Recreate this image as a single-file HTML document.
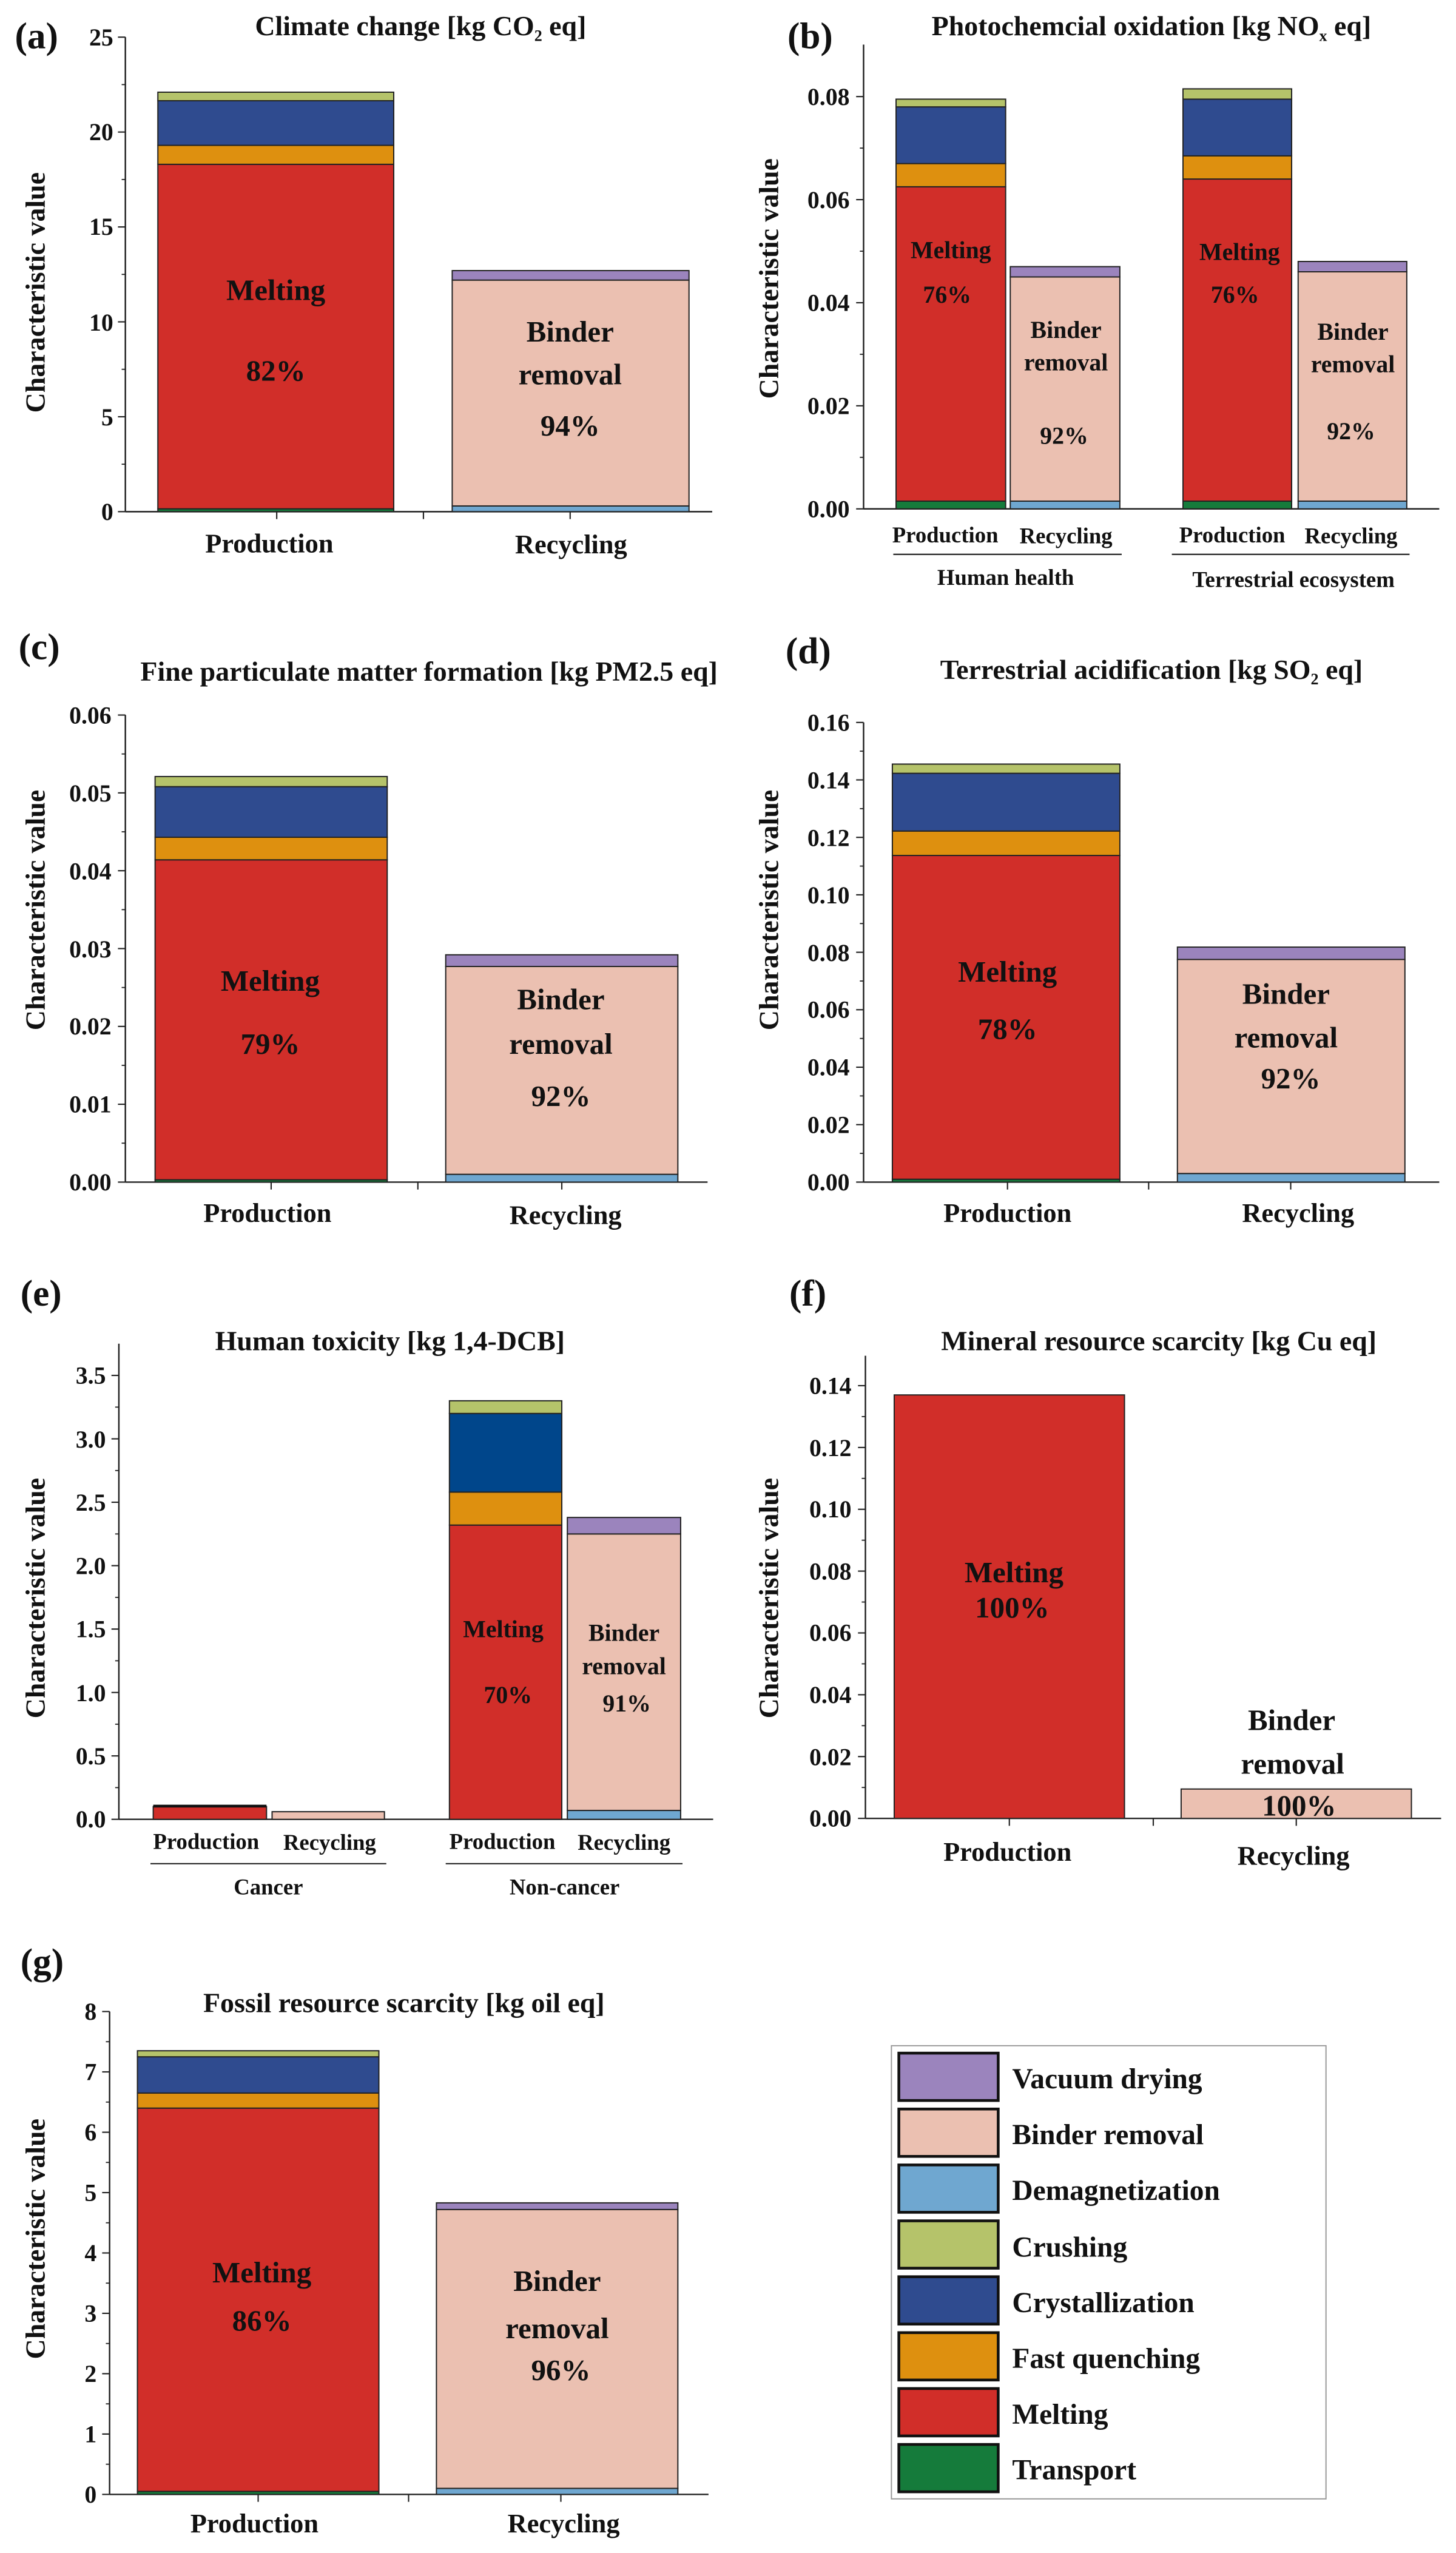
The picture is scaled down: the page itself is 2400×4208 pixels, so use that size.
<!DOCTYPE html>
<html><head><meta charset="utf-8"><style>
html,body{margin:0;padding:0;background:#fff}
svg{display:block}
text{font-family:"Liberation Serif",serif;font-weight:bold;fill:#111}
.t{font-size:30px;text-anchor:middle}
.tk{font-size:26px;text-anchor:end}
.yl{font-size:30px;text-anchor:middle}
.xl{font-size:29px;text-anchor:middle}
.sx{font-size:24px;text-anchor:middle}
.pl{font-size:40px}
.in{font-size:32px;text-anchor:middle}
.ins{font-size:26px;text-anchor:middle}
.lg{font-size:31px}
</style></head><body>
<svg id="s" width="2400" height="4208" viewBox="0 0 1568 2749.3" xmlns="http://www.w3.org/2000/svg">
<g id="g"></g>
<!-- (a) -->
<text class="pl" x="16" y="52">(a)</text>
<text class="t" x="453" y="38">Climate change [kg CO<tspan font-size="17" dy="6">2</tspan><tspan dy="-6"> eq]</tspan></text>
<text class="tk" x="122" y="560">0</text><text class="tk" x="122" y="458">5</text><text class="tk" x="122" y="356">10</text><text class="tk" x="122" y="253">15</text><text class="tk" x="122" y="151">20</text><text class="tk" x="122" y="49">25</text>
<text class="yl" transform="translate(48,315) rotate(-90)">Characteristic value</text>
<text class="xl" x="290" y="595">Production</text><text class="xl" x="615" y="596">Recycling</text>
<text class="in" x="297" y="323">Melting</text><text class="in" x="297" y="410">82%</text>
<text class="in" x="614" y="368">Binder</text><text class="in" x="614" y="414">removal</text><text class="in" x="614" y="469">94%</text>
<!-- (b) -->
<text class="pl" x="848" y="52">(b)</text>
<text class="t" x="1240" y="38">Photochemcial oxidation [kg NO<tspan font-size="17" dy="6">x</tspan><tspan dy="-6"> eq]</tspan></text>
<text class="tk" x="915" y="557">0.00</text><text class="tk" x="915" y="446">0.02</text><text class="tk" x="915" y="335">0.04</text><text class="tk" x="915" y="224">0.06</text><text class="tk" x="915" y="113">0.08</text>
<text class="yl" transform="translate(838,300) rotate(-90)">Characteristic value</text>
<text class="ins" x="1024" y="278">Melting</text><text class="ins" x="1020" y="326">76%</text>
<text class="ins" x="1148" y="364">Binder</text><text class="ins" x="1148" y="399">removal</text><text class="ins" x="1146" y="478">92%</text>
<text class="ins" x="1335" y="280">Melting</text><text class="ins" x="1330" y="326">76%</text>
<text class="ins" x="1457" y="366">Binder</text><text class="ins" x="1457" y="401">removal</text><text class="ins" x="1455" y="473">92%</text>
<text class="sx" x="1018" y="584">Production</text><text class="sx" x="1148" y="585">Recycling</text>
<text class="sx" x="1083" y="630">Human health</text>
<text class="sx" x="1327" y="584">Production</text><text class="sx" x="1455" y="585">Recycling</text>
<text class="sx" x="1393" y="632">Terrestrial ecosystem</text>
<!-- (c) -->
<text class="pl" x="20" y="710">(c)</text>
<text class="t" x="462" y="733">Fine particulate matter formation [kg PM2.5 eq]</text>
<text class="tk" x="120" y="1282">0.00</text><text class="tk" x="120" y="1198">0.01</text><text class="tk" x="120" y="1114">0.02</text><text class="tk" x="120" y="1031">0.03</text><text class="tk" x="120" y="947">0.04</text><text class="tk" x="120" y="863">0.05</text><text class="tk" x="120" y="779">0.06</text>
<text class="yl" transform="translate(48,980) rotate(-90)">Characteristic value</text>
<text class="xl" x="288" y="1316">Production</text><text class="xl" x="609" y="1318">Recycling</text>
<text class="in" x="291" y="1067">Melting</text><text class="in" x="291" y="1135">79%</text>
<text class="in" x="604" y="1087">Binder</text><text class="in" x="604" y="1135">removal</text><text class="in" x="604" y="1191">92%</text>
<!-- (d) -->
<text class="pl" x="846" y="714">(d)</text>
<text class="t" x="1240" y="731">Terrestrial acidification [kg SO<tspan font-size="17" dy="6">2</tspan><tspan dy="-6"> eq]</tspan></text>
<text class="tk" x="915" y="1282">0.00</text><text class="tk" x="915" y="1220">0.02</text><text class="tk" x="915" y="1158">0.04</text><text class="tk" x="915" y="1096">0.06</text><text class="tk" x="915" y="1035">0.08</text><text class="tk" x="915" y="973">0.10</text><text class="tk" x="915" y="911">0.12</text><text class="tk" x="915" y="849">0.14</text><text class="tk" x="915" y="787">0.16</text>
<text class="yl" transform="translate(838,980) rotate(-90)">Characteristic value</text>
<text class="xl" x="1085" y="1316">Production</text><text class="xl" x="1398" y="1316">Recycling</text>
<text class="in" x="1085" y="1057">Melting</text><text class="in" x="1085" y="1119">78%</text>
<text class="in" x="1385" y="1081">Binder</text><text class="in" x="1385" y="1128">removal</text><text class="in" x="1390" y="1172">92%</text>
<!-- (e) -->
<text class="pl" x="22" y="1406">(e)</text>
<text class="t" x="420" y="1454">Human toxicity [kg 1,4-DCB]</text>
<text class="tk" x="114" y="1968">0.0</text><text class="tk" x="114" y="1900">0.5</text><text class="tk" x="114" y="1832">1.0</text><text class="tk" x="114" y="1763">1.5</text><text class="tk" x="114" y="1695">2.0</text><text class="tk" x="114" y="1627">2.5</text><text class="tk" x="114" y="1559">3.0</text><text class="tk" x="114" y="1490">3.5</text>
<text class="yl" transform="translate(48,1721) rotate(-90)">Characteristic value</text>
<text class="ins" x="542" y="1763">Melting</text><text class="ins" x="547" y="1834">70%</text>
<text class="ins" x="672" y="1767">Binder</text><text class="ins" x="672" y="1803">removal</text><text class="ins" x="675" y="1843">91%</text>
<text class="sx" x="222" y="1991">Production</text><text class="sx" x="355" y="1992">Recycling</text><text class="sx" x="289" y="2040">Cancer</text>
<text class="sx" x="541" y="1991">Production</text><text class="sx" x="672" y="1992">Recycling</text><text class="sx" x="608" y="2040">Non-cancer</text>
<!-- (f) -->
<text class="pl" x="850" y="1406">(f)</text>
<text class="t" x="1248" y="1454">Mineral resource scarcity [kg Cu eq]</text>
<text class="tk" x="917" y="1967">0.00</text><text class="tk" x="917" y="1901">0.02</text><text class="tk" x="917" y="1834">0.04</text><text class="tk" x="917" y="1767">0.06</text><text class="tk" x="917" y="1701">0.08</text><text class="tk" x="917" y="1634">0.10</text><text class="tk" x="917" y="1568">0.12</text><text class="tk" x="917" y="1501">0.14</text>
<text class="yl" transform="translate(838,1721) rotate(-90)">Characteristic value</text>
<text class="in" x="1092" y="1704">Melting</text><text class="in" x="1090" y="1742">100%</text>
<text class="in" x="1391" y="1863">Binder</text><text class="in" x="1392" y="1910">removal</text><text class="in" x="1399" y="1955">100%</text>
<text class="xl" x="1085" y="2004">Production</text><text class="xl" x="1393" y="2008">Recycling</text>
<!-- (g) -->
<text class="pl" x="22" y="2126">(g)</text>
<text class="t" x="435" y="2167">Fossil resource scarcity [kg oil eq]</text>
<text class="tk" x="104" y="2695">0</text><text class="tk" x="104" y="2630">1</text><text class="tk" x="104" y="2565">2</text><text class="tk" x="104" y="2500">3</text><text class="tk" x="104" y="2435">4</text><text class="tk" x="104" y="2370">5</text><text class="tk" x="104" y="2305">6</text><text class="tk" x="104" y="2240">7</text><text class="tk" x="104" y="2175">8</text>
<text class="yl" transform="translate(48,2411) rotate(-90)">Characteristic value</text>
<text class="in" x="282" y="2458">Melting</text><text class="in" x="282" y="2510">86%</text>
<text class="in" x="600" y="2467">Binder</text><text class="in" x="600" y="2518">removal</text><text class="in" x="604" y="2563">96%</text>
<text class="xl" x="274" y="2727">Production</text><text class="xl" x="607" y="2727">Recycling</text>
<!-- legend -->
<text class="lg" x="1090" y="2249">Vacuum drying</text>
<text class="lg" x="1090" y="2309">Binder removal</text>
<text class="lg" x="1090" y="2369">Demagnetization</text>
<text class="lg" x="1090" y="2430">Crushing</text>
<text class="lg" x="1090" y="2490">Crystallization</text>
<text class="lg" x="1090" y="2550">Fast quenching</text>
<text class="lg" x="1090" y="2610">Melting</text>
<text class="lg" x="1090" y="2670">Transport</text>
</svg>
<script>
var NS="http://www.w3.org/2000/svg",G=document.getElementById("g");
function el(t,a){var e=document.createElementNS(NS,t);for(var k in a)e.setAttribute(k,a[k]);G.appendChild(e);return e;}
var C={v:"#9b84bd",b:"#ebc0b1",d:"#6fa7d0",c:"#b5c36a",x:"#2f4b8f",X:"#00468b",f:"#de900f",m:"#d12e29",t:"#157b3b"};
function bar(x1,x2,y0,s,segs){var cum=0;segs.forEach(function(p){var a=y0-cum*s,b=y0-p[1]*s;el("rect",{x:x1,y:b,width:x2-x1,height:Math.max(a-b,0.5),fill:C[p[0]],stroke:"#222","stroke-width":1.3});cum=p[1];});}
function axis(x,top,bot,xr,y0,step,n,minor,xt){
 el("line",{x1:x,y1:top,x2:x,y2:bot,stroke:"#222","stroke-width":1.6});
 el("line",{x1:x,y1:bot,x2:xr,y2:bot,stroke:"#222","stroke-width":1.6});
 for(var i=0;i<=n;i++){var y=y0-i*step;el("line",{x1:x-8,y1:y,x2:x,y2:y,stroke:"#222","stroke-width":1.4});
  if(minor&&i<n)el("line",{x1:x-4,y1:y-step/2,x2:x,y2:y-step/2,stroke:"#222","stroke-width":1.2});}
 (xt||[]).forEach(function(t){el("line",{x1:t,y1:bot,x2:t,y2:bot+8,stroke:"#222","stroke-width":1.4});});
}
axis(135,40,551,767,551,102.2,5,1,[298,614,456]);
var sa=20.44;
bar(170,424,551,sa,[["t",0.15],["m",18.3],["f",19.3],["x",21.65],["c",22.1]]);
bar(487,742,551,sa,[["d",0.3],["b",12.2],["v",12.7]]);
axis(930,48,548,1550,548,111,4,1,[]);
var sb=5550;
bar(965,1083,548,sb,[["t",0.0015],["m",0.0625],["f",0.067],["x",0.078],["c",0.0795]]);
bar(1088,1206,548,sb,[["d",0.0015],["b",0.045],["v",0.047]]);
bar(1274,1391,548,sb,[["t",0.0015],["m",0.064],["f",0.0685],["x",0.0795],["c",0.0815]]);
bar(1398,1515,548,sb,[["d",0.0015],["b",0.046],["v",0.048]]);
el("line",{x1:962,y1:597,x2:1208,y2:597,stroke:"#222","stroke-width":1.4});
el("line",{x1:1262,y1:597,x2:1518,y2:597,stroke:"#222","stroke-width":1.4});
axis(135,770,1273,762,1273,83.83,6,1,[292,605,450]);
var sc=8383;
bar(167,417,1273,sc,[["t",0.0003],["m",0.0414],["f",0.0443],["x",0.0508],["c",0.0521]]);
bar(480,730,1273,sc,[["d",0.001],["b",0.0277],["v",0.0292]]);
axis(930,778,1273,1550,1273,61.875,8,1,[1085,1390,1237]);
var sd=3093.75;
bar(961,1206,1273,sd,[["t",0.001],["m",0.1137],["f",0.1222],["x",0.1423],["c",0.1455]]);
bar(1268,1513,1273,sd,[["d",0.003],["b",0.0775],["v",0.0818]]);
axis(128,1447,1959.2,768,1959.2,68.29,7,1,[]);
var se=136.58;
bar(165,287,1959.2,se,[["m",0.1]]);
el("line",{x1:165,y1:1945,x2:287,y2:1945,stroke:"#111","stroke-width":3});
bar(293,414,1959.2,se,[["b",0.06]]);
bar(484,605,1959.2,se,[["m",2.32],["f",2.58],["X",3.2],["c",3.3]]);
bar(611,733,1959.2,se,[["d",0.07],["b",2.25],["v",2.38]]);
el("line",{x1:162,y1:2007,x2:416,y2:2007,stroke:"#222","stroke-width":1.4});
el("line",{x1:480,y1:2007,x2:735,y2:2007,stroke:"#222","stroke-width":1.4});
axis(932,1460,1958.2,1552,1958.2,66.57,7,1,[1087,1396,1242]);
var sf=3328.5;
bar(963,1211,1958.2,sf,[["m",0.137]]);
bar(1272,1520,1958.2,sf,[["b",0.0095]]);
axis(118,2166.2,2686.2,763,2686.2,65,8,1,[278,604,440]);
var sg=65;
bar(148,408,2686.2,sg,[["t",0.05],["m",6.4],["f",6.65],["x",7.25],["c",7.35]]);
bar(470,730,2686.2,sg,[["d",0.1],["b",4.72],["v",4.83]]);
el("rect",{x:960,y:2203,width:468,height:488,fill:"#fff",stroke:"#999","stroke-width":1.3});
["v","b","d","c","x","f","m","t"].forEach(function(k,i){el("rect",{x:968,y:2211+i*60.2,width:107,height:51,fill:C[k],stroke:"#111","stroke-width":3});});
</script>
</body></html>
